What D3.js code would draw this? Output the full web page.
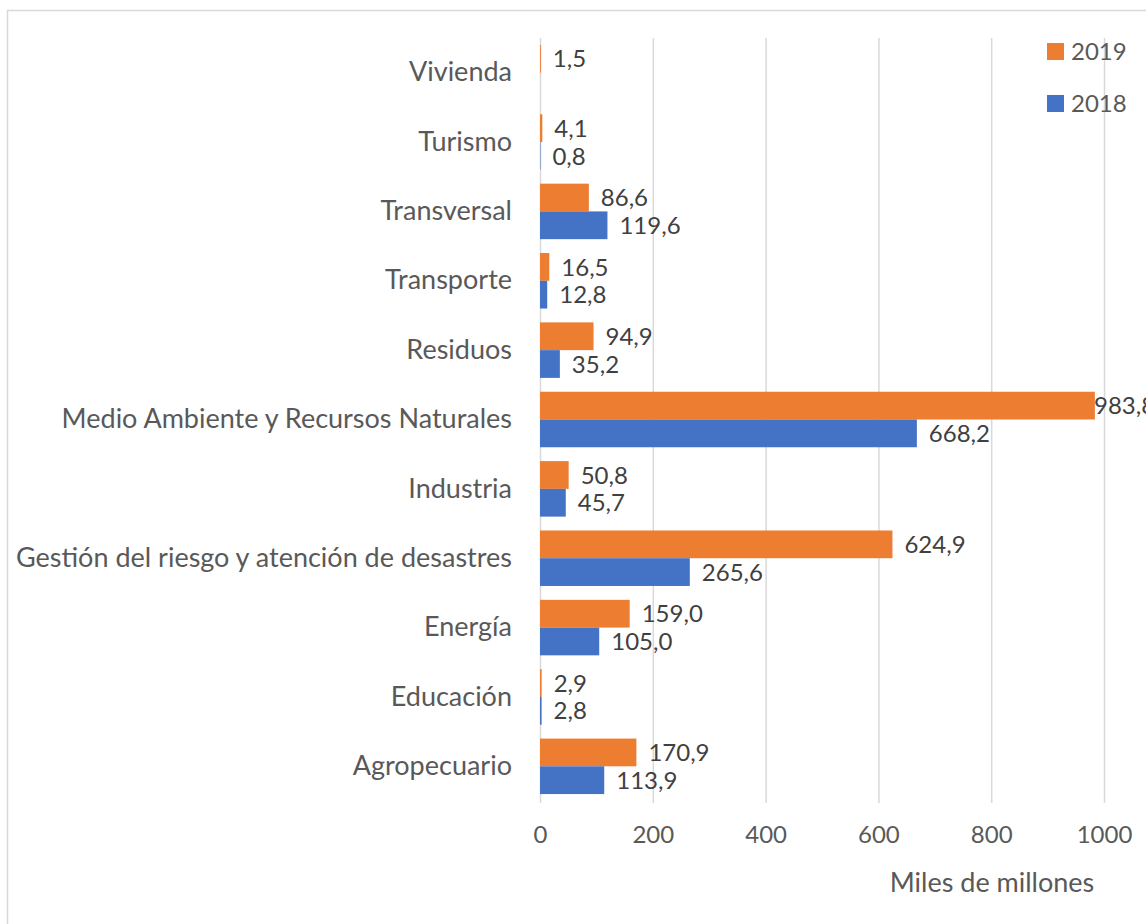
<!DOCTYPE html>
<html>
<head>
<meta charset="utf-8">
<script src="https://cdn.jsdelivr.net/npm/d3@7"></script>
<style>
  body { margin: 0; background: #fff; }
  text { font-family: Lato, "Open Sans", sans-serif; }
</style>
</head>
<body>
<svg id="chart" width="1146" height="924"></svg>
<script>
// categories listed top to bottom
var categories = ["Vivienda", "Turismo", "Transversal", "Transporte", "Residuos",
    "Medio Ambiente y Recursos Naturales", "Industria",
    "Gestión del riesgo y atención de desastres", "Energía", "Educación", "Agropecuario"];
var values2019 = [1.5, 4.1, 86.6, 16.5, 94.9, 983.8, 50.8, 624.9, 159.0, 2.9, 170.9];
var values2018 = [null, 0.8, 119.6, 12.8, 35.2, 668.2, 45.7, 265.6, 105.0, 2.8, 113.9];
var series = ["2019", "2018"];
var seriesColors = ["#ED7D31", "#4472C4"];
var xTicks = [0, 200, 400, 600, 800, 1000];

var svg = d3.select("#chart");
var margin = {top: 38, left: 540, right: 42, bottom: 123};
var width = 1146 - margin.left - margin.right,
    height = 924 - margin.top - margin.bottom;

// chart frame
svg.append("rect")
    .attr("x", 7.5).attr("y", 10.5)
    .attr("width", 1160).attr("height", 930)
    .style("fill", "none").style("stroke", "#d9d9d9").style("stroke-width", 1.5);

var g = svg.append("g").attr("transform", "translate(" + margin.left + "," + margin.top + ")");

var x = d3.scaleLinear().domain([0, 1000]).range([0, width]);
var y = d3.scaleBand().domain(categories).range([0, height]).paddingInner(0.2).paddingOuter(0.1);
var ySub = d3.scaleBand().domain(series).range([0, y.bandwidth()]);
var fmt = function(v) { return d3.format(".1f")(v).replace(".", ","); };

// vertical gridlines
g.append("g")
    .call(d3.axisBottom(x).tickValues(xTicks).tickSize(height + 2).tickFormat(""))
    .call(function(a) {
        a.select(".domain").remove();
        a.selectAll("line").style("stroke", "#d9d9d9").style("stroke-width", 1.5);
    });

// tick labels
g.append("g")
    .attr("transform", "translate(0," + height + ")")
    .call(d3.axisBottom(x).tickValues(xTicks).tickSize(0).tickPadding(25).tickFormat(d3.format("d")))
    .call(function(a) {
        a.select(".domain").remove();
        a.selectAll("text").style("font-size", "24px").style("fill", "#595959")
            .style("font-family", "Lato, 'Open Sans', sans-serif");
    });

// category labels
g.append("g")
    .call(d3.axisLeft(y).tickSize(0).tickPadding(28))
    .call(function(a) {
        a.select(".domain").remove();
        a.selectAll("text").style("font-size", "27px").style("fill", "#595959")
            .style("font-family", "Lato, 'Open Sans', sans-serif");
    });

var rows = categories.map(function(c, i) {
    return {cat: c, vals: [values2019[i], values2018[i]]};
});

var row = g.selectAll(".row")
    .data(rows)
  .enter().append("g")
    .attr("class", "row")
    .attr("transform", function(d) { return "translate(0," + y(d.cat) + ")"; });

var cells = row.selectAll(".cell")
    .data(function(d) {
        return series.map(function(s, k) { return {s: s, k: k, v: d.vals[k]}; })
            .filter(function(e) { return e.v !== null; });
    })
  .enter().append("g")
    .attr("class", "cell");

cells.append("rect")
    .attr("x", 0)
    .attr("y", function(d) { return ySub(d.s); })
    .attr("width", function(d) { return x(d.v); })
    .attr("height", ySub.bandwidth())
    .style("fill", function(d) { return seriesColors[d.k]; });

cells.append("text")
    .attr("x", function(d) { return Math.min(x(d.v) + 12, width - 10); })
    .attr("y", function(d) { return ySub(d.s) + ySub.bandwidth() / 2; })
    .attr("dy", "0.36em")
    .style("font-size", "24px")
    .style("fill", "#404040")
    .text(function(d) { return fmt(d.v); });

// legend
var legend = svg.append("g").attr("transform", "translate(1047,43)");
var li = legend.selectAll(".li")
    .data(series)
  .enter().append("g")
    .attr("transform", function(d, i) { return "translate(0," + i * 52 + ")"; });
li.append("rect").attr("width", 17).attr("height", 17)
    .style("fill", function(d, i) { return seriesColors[i]; });
li.append("text").attr("x", 24).attr("y", 8.5).attr("dy", "0.36em")
    .style("font-size", "24px").style("fill", "#595959")
    .text(function(d) { return d; });

// axis title
svg.append("text")
    .attr("x", 992).attr("y", 882).attr("dy", "0.36em")
    .attr("text-anchor", "middle")
    .style("font-size", "27px").style("fill", "#595959")
    .text("Miles de millones");
</script>
</body>
</html>
